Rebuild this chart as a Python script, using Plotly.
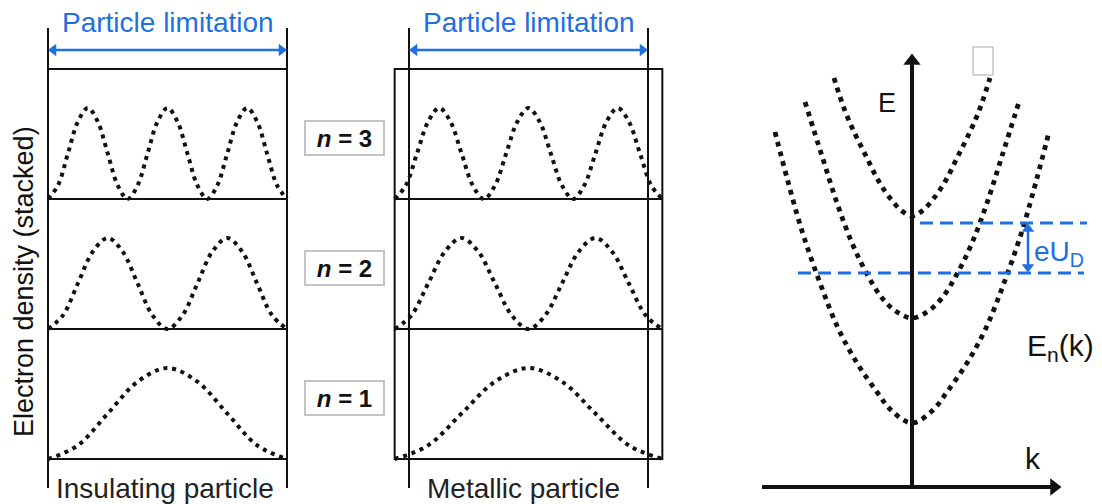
import plotly.graph_objects as go

W, H = 1102, 504
FONT = "Arial, 'Liberation Sans', sans-serif"
BLUE = "#1f6fe3"
INK = "#111111"

# ---- electron density |psi_n|^2 across the particle, eighth-period samples ----
levels = [1, 2, 3]
density_n1 = [0, .15, .5, .85, 1, .85, .5, .15, 0]
density_n2 = [0, .15, .5, .85, 1, .85, .5, .15, 0,
              .15, .5, .85, 1, .85, .5, .15, 0]
density_n3 = [0, .15, .5, .85, 1, .85, .5, .15, 0,
              .15, .5, .85, 1, .85, .5, .15, 0,
              .15, .5, .85, 1, .85, .5, .15, 0]
densities = [density_n1, density_n2, density_n3]
level_labels = ["n = 1", "n = 2", "n = 3"]

# metallic particle: electrons spill out beyond the particle edges (units of L)
spill = 0.06

# ---- dispersion E_n(k): minima and one branch (k >= 0), mirrored in k ----
band_min = [0.64, 1.69, 2.71]
band_k = [
    [0, .20, .35, .55, .74, .92, 1.10, 1.25, 1.37],
    [0, .15, .30, .45, .60, .75, .90, 1.07],
    [0, .10, .22, .34, .45, .56, .67, .78],
]
band_dE = [
    [0, .12, .31, .60, .95, 1.40, 1.92, 2.45, 2.91],
    [0, .06, .20, .44, .75, 1.15, 1.62, 2.16],
    [0, .05, .18, .36, .58, .80, 1.05, 1.38],
]
# energy levels separated by eU_D and their k extents
level_E = [2.14, 2.64]
level_k_from = [-1.14, 0.08]
level_k_to = [1.72, 1.75]

AMP = 0.7  # peak height inside one stacked band

fig = go.Figure()


def line_trace(x, y, xa, ya, color, width, dash=None, spline=False):
    ln = dict(color=color, width=width)
    if dash:
        ln["dash"] = dash
    if spline:
        ln["shape"] = "spline"
        ln["smoothing"] = 1
    fig.add_trace(go.Scatter(x=x, y=y, mode="lines", xaxis=xa, yaxis=ya, line=ln,
                             hoverinfo="skip", showlegend=False))


def heads(x, y, xa, ya, symbols, color, size):
    fig.add_trace(go.Scatter(x=x, y=y, mode="markers", xaxis=xa, yaxis=ya,
                             marker=dict(symbol=symbols, size=size, color=color, line=dict(width=0)),
                             hoverinfo="skip", showlegend=False))


# ---- density curves: insulating (x axis 1) and metallic (x axis 2) ----
for n, dens in zip(levels, densities):
    m = len(dens) - 1
    t = [i / m for i in range(m + 1)]
    y = [(n - 1) + AMP * v for v in dens]
    line_trace(t, y, "x", "y", INK, 4, "4px,4.8px", spline=True)
    xm = [-spill + ti * (1 + 2 * spill) for ti in t]
    line_trace(xm, y, "x2", "y2", INK, 4, "4px,4.8px", spline=True)

# ---- particle-limitation double arrows ----
PX_X = 239.0       # px per particle length
LIM_Y = 3.146
for xa, ya in [("x", "y"), ("x2", "y2")]:
    h = 5.5 / PX_X
    line_trace([h, 1 - h], [LIM_Y, LIM_Y], xa, ya, BLUE, 2.5)
    heads([h, 1 - h], [LIM_Y, LIM_Y], xa, ya, ["triangle-left", "triangle-right"], BLUE, 11)

# ---- band parabolas ----
for e0, ks, des in zip(band_min, band_k, band_dE):
    kk = [-k for k in ks[::-1]] + ks[1:]
    ee = [e0 + d for d in des[::-1]] + [e0 + d for d in des[1:]]
    line_trace(kk, ee, "x3", "y3", INK, 4.8, "4.8px,5.2px", spline=True)

for e, k0, k1 in zip(level_E, level_k_from, level_k_to):
    line_trace([k0, k1], [e, e], "x3", "y3", BLUE, 3, "13px,7px")

# ---- E and k axes with arrowheads, eU_D arrow ----
E_TOP, K_LEFT, K_RIGHT = 4.34, -1.50, 1.50
line_trace([0, 0], [0, E_TOP - 0.08], "x3", "y3", INK, 4)
heads([0], [E_TOP - 0.08], "x3", "y3", ["triangle-up"], INK, 15)
line_trace([K_LEFT, K_RIGHT - 0.08], [0, 0], "x3", "y3", INK, 4)
heads([K_RIGHT - 0.08], [0], "x3", "y3", ["triangle-right"], INK, 15)
U_K = 1.16
line_trace([U_K, U_K], [level_E[0] + 0.05, level_E[1] - 0.05], "x3", "y3", BLUE, 2.5)
heads([U_K, U_K], [level_E[0] + 0.06, level_E[1] - 0.06], "x3", "y3",
      ["triangle-down", "triangle-up"], BLUE, 11)

# ---- frames ----
shapes = []
frame = dict(color=INK, width=2)
for yv in [0, 1, 2, 3]:
    shapes.append(dict(type="line", xref="x", yref="y", x0=0, x1=1, y0=yv, y1=yv, line=frame, layer="below"))
for xv in [0, 1]:
    shapes.append(dict(type="line", xref="x", yref="y", x0=xv, x1=xv, y0=-0.223, y1=3.315, line=frame, layer="below"))
    shapes.append(dict(type="line", xref="x2", yref="y2", x0=xv, x1=xv, y0=-0.223, y1=3.315, line=frame, layer="below"))
shapes.append(dict(type="rect", xref="x2", yref="y2", x0=-spill, x1=1 + spill, y0=0, y1=3, line=frame, layer="below"))
for yv in [1, 2]:
    shapes.append(dict(type="line", xref="x2", yref="y2", x0=-spill, x1=1 + spill, y0=yv, y1=yv, line=frame, layer="below"))
shapes.append(dict(type="rect", xref="x3", yref="y3", x0=0.61, x1=0.81, y0=4.12, y1=4.40,
                   line=dict(color="#a8a8a8", width=1), fillcolor="white", layer="above"))

ann = []
for xr, yr, cx, lbl in [("x", "y", 0.49, "Insulating particle"), ("x2", "y2", 0.48, "Metallic particle")]:
    ann.append(dict(xref=xr, yref=yr, x=0.5, y=3.36, text="Particle limitation", showarrow=False,
                    font=dict(family=FONT, size=28, color=BLUE)))
    ann.append(dict(xref=xr, yref=yr, x=cx, y=-0.225, text=lbl, showarrow=False,
                    font=dict(family=FONT, size=28, color="#222222")))

for n, lbl in zip(levels, level_labels):
    ann.append(dict(xref="x2", yref="y2", x=-0.268, y=(n - 1) + 0.47,
                    text="<b><i>n</i>" + lbl[1:] + "</b>", showarrow=False,
                    font=dict(family=FONT, size=24, color=INK),
                    bordercolor="#c4c4c4", borderwidth=2, bgcolor="white",
                    width=77, height=32, borderpad=0))

ann.append(dict(xref="paper", yref="paper", x=24 / W, y=1 - 282 / H, xanchor="center", yanchor="middle",
                text="Electron density (stacked)", textangle=-90, showarrow=False,
                font=dict(family=FONT, size=27, color=INK)))

ann.append(dict(xref="x3", yref="y3", x=-0.25, y=3.84, text="E", showarrow=False,
                font=dict(family=FONT, size=27, color=INK)))
ann.append(dict(xref="x3", yref="y3", x=1.21, y=0.29, text="k", showarrow=False,
                font=dict(family=FONT, size=30, color=INK)))
ann.append(dict(xref="x3", yref="y3", x=1.13, y=1.40, xanchor="left", text="E<sub>n</sub>(k)", showarrow=False,
                font=dict(family=FONT, size=30, color=INK)))
ann.append(dict(xref="x3", yref="y3", x=1.20, y=2.34, xanchor="left", text="eU<sub>D</sub>", showarrow=False,
                font=dict(family=FONT, size=28, color=BLUE)))

hidden = dict(visible=False, fixedrange=True)
fig.update_layout(
    width=W, height=H, margin=dict(l=0, r=0, t=0, b=0),
    paper_bgcolor="white", plot_bgcolor="white",
    shapes=shapes, annotations=ann,
    xaxis=dict(domain=[0, 300 / W], range=[(0 - 48) / 239, (300 - 48) / 239], **hidden),
    yaxis=dict(domain=[0, 1], range=[(459 - 504) / 130, 459 / 130], **hidden),
    xaxis2=dict(domain=[300 / W, 700 / W], range=[(300 - 409) / 239, (700 - 409) / 239], **hidden),
    yaxis2=dict(domain=[0, 1], range=[(459 - 504) / 130, 459 / 130], **hidden),
    xaxis3=dict(domain=[700 / W, 1], range=[(700 - 912) / 100, (1102 - 912) / 100], **hidden),
    yaxis3=dict(domain=[0, 1], range=[(487 - 504) / 100, 487 / 100], **hidden),
)

fig.write_html("out.html")
